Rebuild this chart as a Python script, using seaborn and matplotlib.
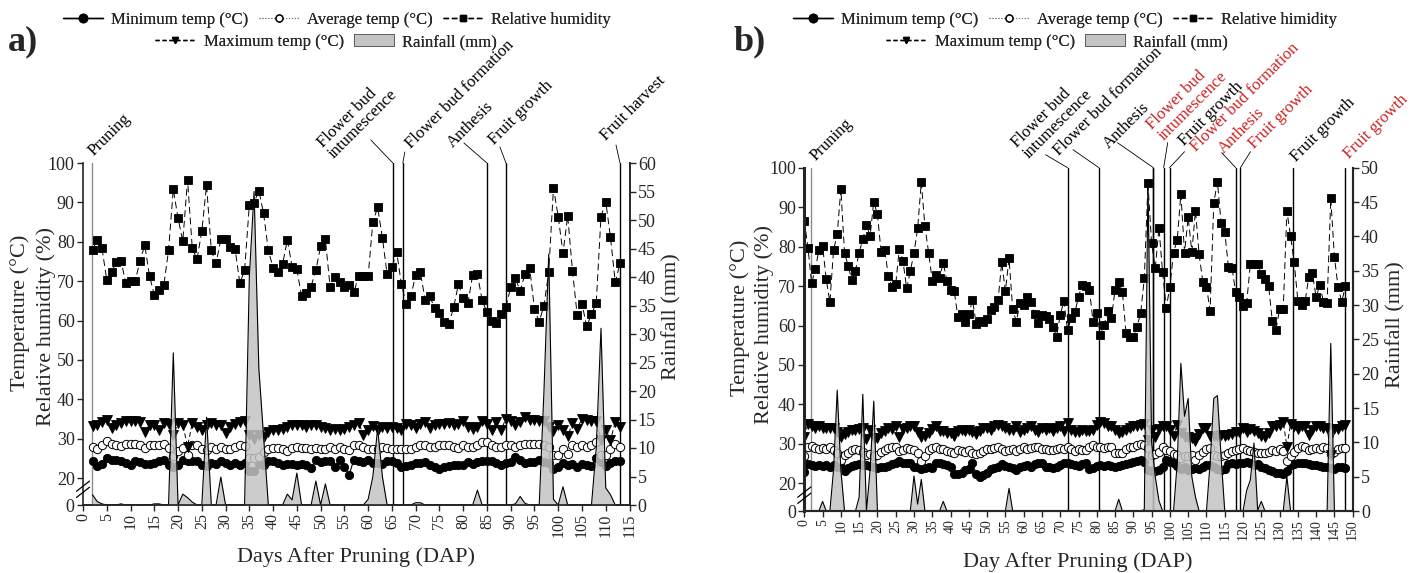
import matplotlib
matplotlib.use('Agg')
import matplotlib.pyplot as plt
from matplotlib.lines import Line2D
from matplotlib.patches import Patch
import numpy as np
import seaborn as sns

sns.set_style('ticks')
plt.rcParams['font.family'] = ['Liberation Serif', 'DejaVu Serif']

# ---------------- panel a data (days 2..113) ----------------
a_days = np.arange(2, 114)
a_rh = [77.9, 80.5, 78.3, 70.3, 72.3, 74.8, 75.2, 69.5, 70.1, 70.1,
        75.2, 79.1, 71.3, 66.5, 67.8, 68.9, 77.8, 93.3, 86.0, 80.2,
        95.7, 78.3, 75.6, 82.7, 94.4, 77.8, 74.5, 80.6, 80.6, 78.6,
        78.2, 69.5, 72.7, 89.3, 89.9, 93.0, 87.2, 77.8, 73.4, 72.2,
        74.3, 80.5, 73.7, 73.0, 66.1, 66.9, 68.6, 72.8, 78.8, 80.7,
        68.4, 71.0, 69.7, 68.4, 68.9, 67.2, 71.3, 71.2, 71.2, 85.1,
        88.7, 81.0, 71.7, 73.5, 77.5, 69.2, 64.2, 66.1, 71.6, 72.2,
        65.2, 66.1, 63.1, 61.8, 59.7, 59.1, 63.4, 69.2, 65.7, 64.4,
        71.6, 71.7, 65.1, 62.1, 60.0, 59.3, 61.6, 63.5, 68.4, 70.7,
        67.5, 71.8, 73.3, 62.9, 59.7, 63.8, 72.3, 93.7, 86.4, 77.1,
        86.6, 72.6, 61.3, 64.2, 58.5, 61.6, 64.4, 86.4, 90.2, 81.1,
        69.7, 74.5]
a_tmax = [33.2, 33.5, 34.2, 34.8, 32.7, 33.4, 34.0, 34.6, 34.6, 34.4,
          34.2, 31.8, 33.5, 33.4, 32.1, 34.0, 33.8, 30.8, 34.0, 33.5,
          28.0, 34.0, 32.9, 32.1, 33.4, 34.0, 33.5, 33.5, 31.4, 32.9,
          33.8, 34.2, 34.5, 30.8, 30.0, 31.0, 30.4, 31.8, 32.3, 32.3,
          32.5, 32.9, 33.4, 33.4, 33.4, 32.9, 33.4, 33.5, 32.9, 32.7,
          32.3, 32.5, 32.3, 32.5, 32.9, 33.5, 34.0, 31.0, 32.1, 33.1,
          32.3, 32.9, 32.7, 32.9, 32.7, 32.1, 33.6, 33.4, 32.7, 33.8,
          34.2, 32.7, 33.4, 33.8, 33.8, 34.0, 33.4, 33.8, 34.5, 32.9,
          32.5, 32.9, 34.5, 33.6, 32.3, 34.2, 32.3, 35.1, 34.6, 33.4,
          34.2, 35.5, 34.8, 34.8, 34.6, 34.6, 32.9, 31.9, 33.5, 32.3,
          30.6, 34.0, 32.5, 35.1, 34.8, 34.6, 34.6, 29.6, 32.3, 29.6,
          34.2, 32.9]
a_tavg = [28.0, 27.4, 28.3, 29.3, 28.7, 28.3, 28.1, 28.7, 28.7, 28.7,
          28.3, 27.7, 28.3, 28.3, 28.5, 28.7, 27.7, 25.5, 26.9, 27.7,
          25.8, 28.3, 28.3, 27.4, 27.0, 27.9, 27.4, 28.0, 27.3, 27.4,
          27.9, 28.3, 28.1, 25.2, 25.2, 25.3, 26.6, 27.4, 27.7, 27.7,
          27.3, 26.9, 27.7, 27.9, 27.7, 27.7, 27.4, 27.7, 27.4, 27.4,
          27.9, 27.4, 27.9, 27.4, 27.2, 28.3, 28.3, 27.9, 27.4, 27.3,
          27.4, 27.9, 27.7, 27.4, 27.4, 27.3, 27.4, 27.4, 27.9, 28.3,
          28.5, 27.9, 27.9, 28.3, 28.3, 28.3, 28.0, 27.7, 28.3, 27.9,
          27.9, 28.3, 29.1, 29.1, 28.3, 27.9, 28.0, 28.3, 28.3, 27.9,
          28.3, 28.7, 28.7, 28.7, 28.7, 28.3, 27.9, 25.8, 25.8, 27.4,
          26.2, 28.3, 28.0, 28.3, 28.0, 28.3, 29.1, 25.8, 25.8, 27.4,
          28.7, 27.9]
a_tmin = [24.2, 23.0, 23.6, 25.1, 24.7, 24.5, 24.2, 23.9, 23.2, 24.2,
          24.1, 23.6, 23.6, 23.9, 24.2, 24.7, 23.2, 22.8, 23.2, 24.5,
          24.2, 24.2, 24.2, 23.2, 23.0, 23.8, 23.6, 24.2, 23.9, 23.4,
          23.8, 23.4, 23.8, 21.9, 21.9, 23.6, 23.2, 24.2, 24.2, 23.8,
          23.4, 23.6, 23.6, 23.4, 23.6, 23.2, 22.5, 24.7, 24.1, 24.2,
          24.2, 22.8, 24.5, 22.8, 20.8, 24.7, 24.2, 24.1, 24.5, 23.8,
          23.9, 23.6, 24.2, 24.2, 23.9, 22.8, 23.0, 23.4, 23.8, 23.9,
          24.1, 23.4, 22.8, 22.4, 22.8, 23.0, 23.2, 23.2, 23.4, 24.1,
          23.6, 24.1, 24.2, 24.2, 24.3, 23.8, 23.4, 23.8, 24.1, 25.3,
          24.5, 23.8, 24.1, 24.1, 24.5, 24.1, 23.8, 22.4, 22.8, 23.8,
          23.4, 23.6, 22.8, 23.6, 23.4, 23.0, 25.1, 24.1, 23.0, 23.8,
          24.2, 24.2]
a_rain = [1.8, 0.6, 0.2, 0, 0, 0, 0.2, 0, 0, 0,
          0, 0, 0, 0.2, 0.2, 0, 0, 26.7, 0, 1.9,
          1.3, 0.5, 0, 0, 15.4, 0, 0, 4.9, 0, 0,
          0, 0, 0, 40.0, 55.0, 24.0, 12.0, 0, 0, 0,
          0, 1.9, 0.9, 5.6, 0, 0, 0, 4.2, 0, 3.7,
          0, 0, 0, 0, 0, 0, 0, 0, 1.0, 5.0,
          13.5, 5.0, 0, 0, 0, 0, 0, 0, 0.4, 0.4,
          0, 0, 0, 0, 0, 0, 0, 0, 0, 0,
          0, 2.6, 0, 0, 0, 0, 0, 0, 0, 0.2,
          1.5, 0.3, 0, 0, 0, 20.0, 44.0, 1.0, 0, 3.2,
          0, 0, 0, 0, 0, 0, 10.0, 31.0, 3.0, 1.8,
          0, 0][:112]

# ---------------- panel b data (days 0..148) ----------------
b_days = np.arange(0, 149)
b_rh = [86.5, 79.7, 70.7, 74.3, 79.1, 80.2, 71.7, 65.9, 79.1, 83.1,
        94.6, 78.5, 75.1, 71.5, 73.9, 78.5, 81.8, 85.5, 82.7, 91.4,
        88.2, 78.7, 79.1, 72.5, 69.8, 70.4, 79.5, 76.3, 69.4, 73.8,
        78.3, 84.6, 96.3, 85.1, 78.5, 71.4, 72.8, 72.1, 75.9, 71.4,
        69.0, 68.8, 62.2, 62.8, 60.8, 62.9, 66.5, 60.5, 61.2, 60.8,
        61.6, 63.9, 64.6, 66.5, 76.0, 68.7, 77.0, 64.1, 61.0, 65.8,
        65.2, 67.3, 66.0, 62.8, 60.7, 62.7, 62.5, 61.6, 59.7, 57.2,
        62.7, 66.2, 58.9, 61.8, 63.3, 67.3, 70.3, 70.1, 69.0, 60.8,
        63.1, 57.6, 60.1, 63.7, 61.8, 69.0, 71.1, 68.6, 58.0, 57.0,
        57.2, 59.7, 63.1, 72.0, 96.0, 80.8, 74.5, 84.8, 73.5, 64.5,
        69.8, 78.5, 81.7, 93.3, 78.5, 87.4, 78.7, 89.1, 78.0, 71.1,
        69.8, 63.8, 91.0, 96.5, 86.1, 83.8, 74.9, 74.5, 68.4, 67.1,
        64.9, 65.8, 75.5, 75.5, 75.6, 73.0, 71.7, 70.0, 61.2, 58.9,
        64.1, 64.2, 89.0, 82.7, 76.0, 66.3, 65.2, 66.2, 72.4, 73.2,
        67.1, 70.3, 66.0, 65.6, 92.2, 77.4, 69.7, 66.0, 70.0]
b_tmax = [31.8, 35.0, 34.4, 34.1, 34.4, 34.1, 34.1, 34.1, 33.9, 33.1,
          31.8, 32.4, 33.1, 33.5, 33.5, 33.7, 34.1, 31.2, 33.5, 31.6,
          31.4, 32.7, 33.3, 33.9, 33.7, 34.5, 31.7, 33.7, 34.1, 34.4,
          34.5, 33.1, 31.7, 32.1, 32.7, 33.8, 34.4, 33.3, 33.3, 32.7,
          32.7, 32.0, 33.3, 33.5, 33.3, 33.5, 33.1, 32.4, 33.3, 34.1,
          33.9, 33.5, 34.4, 34.8, 34.5, 34.1, 33.5, 33.5, 34.4, 33.1,
          33.5, 34.1, 34.4, 33.5, 33.1, 34.1, 33.5, 34.1, 33.3, 33.9,
          34.4, 33.3, 35.2, 33.5, 33.1, 33.1, 33.5, 33.3, 33.3, 33.5,
          34.8, 35.6, 35.2, 34.4, 34.4, 33.5, 32.7, 33.1, 33.5, 33.9,
          34.4, 34.5, 34.8, 35.0, 31.0, 33.5, 31.8, 33.7, 34.4, 34.4,
          33.5, 32.0, 34.8, 32.7, 31.8, 31.8, 31.4, 30.6, 32.4, 33.9,
          33.9, 32.0, 32.0, 32.0, 32.2, 32.0, 32.2, 32.4, 33.1, 33.1,
          33.9, 33.1, 33.7, 33.3, 32.7, 32.0, 31.8, 32.7, 34.4, 34.4,
          34.8, 35.6, 29.3, 35.0, 34.4, 33.7, 34.4, 34.5, 32.2, 33.5,
          34.4, 34.4, 34.1, 34.1, 27.2, 33.7, 33.7, 34.5, 34.8]
b_tavg = [26.8, 29.1, 29.5, 29.0, 28.7, 28.9, 28.7, 29.3, 28.4, 27.6,
          25.9, 27.2, 27.8, 28.4, 28.6, 28.4, 28.0, 27.2, 27.4, 26.9,
          27.2, 28.0, 28.4, 28.9, 29.3, 29.1, 28.3, 28.4, 29.0, 28.7,
          28.4, 27.6, 25.7, 26.9, 28.4, 28.9, 29.1, 28.6, 28.7, 28.3,
          28.0, 27.8, 28.4, 28.3, 28.0, 28.4, 27.8, 27.4, 27.8, 28.3,
          28.7, 28.7, 28.9, 29.1, 28.7, 28.3, 28.4, 28.6, 28.3, 28.7,
          29.3, 28.6, 28.9, 29.1, 29.3, 28.7, 28.7, 28.4, 28.4, 28.7,
          28.9, 28.6, 29.1, 28.6, 28.3, 28.7, 28.4, 28.4, 29.1, 29.7,
          29.3, 29.3, 28.9, 29.1, 29.3, 27.8, 27.6, 27.6, 28.6, 29.1,
          29.3, 29.7, 29.9, 29.7, 28.9, 27.2, 27.4, 28.0, 29.1, 28.4,
          28.3, 27.4, 27.2, 26.3, 26.8, 26.9, 27.2, 25.9, 27.2, 28.0,
          28.6, 28.9, 27.2, 26.8, 26.9, 27.2, 27.8, 28.3, 28.4, 28.6,
          28.9, 28.4, 28.3, 28.0, 27.8, 27.8, 27.6, 28.0, 28.4, 28.3,
          28.6, 28.3, 25.7, 26.8, 28.0, 28.9, 29.5, 29.3, 28.4, 28.6,
          28.9, 28.6, 29.1, 28.9, 27.4, 28.0, 28.6, 28.9, 28.9]
b_tmin = [22.8, 24.9, 24.6, 24.4, 24.6, 24.4, 24.6, 24.2, 24.6, 24.2,
          24.2, 23.2, 24.0, 24.4, 24.6, 24.8, 24.6, 24.6, 24.4, 24.2,
          24.0, 24.2, 24.2, 24.5, 24.8, 25.1, 25.7, 25.2, 25.2, 25.1,
          24.1, 24.1, 23.6, 24.0, 24.2, 24.0, 25.1, 25.2, 24.9, 24.6,
          24.2, 22.3, 22.4, 22.7, 23.4, 23.5, 25.1, 22.3, 21.7, 22.1,
          22.7, 23.5, 23.8, 24.2, 24.8, 24.4, 24.1, 23.8, 23.4, 24.2,
          24.4, 24.6, 24.2, 24.9, 25.2, 25.1, 24.1, 24.2, 23.8, 24.1,
          24.6, 25.2, 25.2, 24.9, 24.6, 24.4, 24.9, 25.1, 23.5, 23.8,
          24.4, 24.6, 24.5, 24.6, 24.4, 24.2, 24.4, 24.6, 24.9, 25.1,
          25.5, 25.7, 25.9, 25.5, 23.4, 23.0, 23.0, 23.4, 24.1, 25.9,
          25.5, 25.1, 24.4, 23.5, 24.2, 23.4, 23.5, 23.8, 23.5, 24.2,
          24.6, 24.6, 24.1, 23.5, 23.4, 23.5, 24.9, 25.1, 24.9, 25.1,
          25.2, 25.5, 25.1, 24.6, 24.9, 24.2, 23.8, 23.4, 23.0, 22.7,
          22.5, 22.4, 23.0, 24.6, 24.8, 25.1, 25.2, 25.1, 24.9, 24.6,
          24.6, 24.4, 24.2, 24.1, 23.8, 23.5, 24.2, 24.1, 23.8]
b_rain = [0, 0, 0, 0, 0, 1.4, 0, 0, 6.0, 17.6,
          6.0, 0, 0, 0, 0, 2.0, 17.0, 0, 6.0, 16.0,
          0, 0, 0, 0, 0, 0, 0, 0, 0, 0,
          5.1, 1.0, 4.6, 0, 0, 0, 0, 0, 1.4, 0,
          0, 0, 0, 0, 0, 0.1, 0, 0, 0, 0,
          0, 0, 0, 0, 0, 0, 3.3, 0, 0, 0,
          0, 0, 0, 0, 0, 0, 0, 0, 0, 0,
          0, 0, 0, 0, 0, 0, 0, 0, 0, 0,
          0, 0, 0, 0, 0, 0, 1.7, 0, 0, 0,
          0, 0, 0, 0.2, 48.0, 10.0, 5.0, 1.5, 0, 0,
          0, 0, 7.0, 21.5, 13.8, 16.4, 5.0, 2.0, 0, 0,
          0, 7.0, 16.4, 16.8, 7.9, 0, 0, 0, 0, 0,
          0, 3.0, 4.5, 9.9, 0.1, 1.4, 0, 0, 0, 0,
          0, 0, 5.0, 0, 0, 0, 0, 0, 0, 0,
          0, 0, 0, 0, 24.4, 0, 0, 0, 0]

# phenological events: day, label, text colour
a_event_days = [1.8, 65.2, 67.3, 85.0, 89.0, 113.0]
a_event_labels = ['Pruning', 'Flower bud\nintumescence', 'Flower bud formation',
                  'Anthesis', 'Fruit growth', 'Fruit harvest']
a_event_colors = ['k'] * 6

b_event_days = [1.8, 72.0, 80.6, 95.5, 95.5, 98.3, 99.9, 118.0, 119.3, 133.8, 148.0]
b_event_labels = ['Pruning', 'Flower bud\nintumescence', 'Flower bud formation', 'Anthesis',
                  'Flower bud\nintumescence', 'Fruit growth', 'Flower bud formation',
                  'Anthesis', 'Fruit growth', 'Fruit growth', 'Fruit growth']
RED = '#cc2222'
b_event_colors = ['k', 'k', 'k', 'k', RED, 'k', RED, RED, RED, 'k', RED]

# label layout: (text offset px, leader end offset px or None)
a_layout = [((5, 4), None), ((-56, 1), (-22, 23)), ((11, 11), (2, 11)),
            ((-31, 12), (-23, 20)), ((-9, 15), (-6, 16)), ((-11, 19), (-4, 18))]
b_layout = [((8, 4), None), ((-36, 6), (-22, 13)), ((-37, 9), (-26, 18)),
            ((-42, 16), (-36, 25)), ((13, 24), None), ((23, 19), (4, 25)),
            ((29, 13), (15, 16)), ((-9, 11), (-14, 15)), ((17, 16), (10, 16)),
            ((6, 3), None), ((7, 6), None)]

W, H = 1419, 573
fig = plt.figure(figsize=(W / 100, H / 100), dpi=100)
RAIN_C = '#c4c4c4'


def draw_panel(rect, days, tmin, tavg, tmax, rh, rain, xmax, rmax, ybot,
               ev_days, ev_labels, ev_colors, layout, spine_lw, left_lw, xfs):
    ax = fig.add_axes(rect)
    ax2 = ax.twinx()
    for i, d in enumerate(ev_days):
        lc = '#8c8c8c' if i == 0 else 'k'
        ax.axvline(d, color=lc, lw=1.0, zorder=1)

    sns.lineplot(x=days, y=tmin, ax=ax, color='k', lw=0.8, marker='o', markersize=6,
                 markeredgecolor='k', markeredgewidth=0.6)
    sns.lineplot(x=days, y=tavg, ax=ax, color='#777777', lw=0.7, linestyle=':',
                 marker='o', markersize=6, markerfacecolor='white',
                 markeredgecolor='k', markeredgewidth=0.7)
    sns.lineplot(x=days, y=tmax, ax=ax, color='k', lw=0.7, linestyle=(0, (5, 3)),
                 marker='v', markersize=7, markeredgecolor='k', markeredgewidth=0.6)
    sns.lineplot(x=days, y=rh, ax=ax, color='k', lw=0.7, linestyle=(0, (7, 4)),
                 marker='s', markersize=6, markeredgecolor='k', markeredgewidth=0.6)

    ax2.fill_between(days, rain, 0, color=RAIN_C, alpha=0.85, lw=0)
    sns.lineplot(x=days, y=rain, ax=ax2, color='k', lw=0.8)

    ax.set_xlim(0, xmax)
    ax.set_ylim(ybot, 100)
    ax2.set_ylim(0, rmax)
    ax.set_xticks(range(0, xmax + 1, 5))
    ax.set_xticklabels([str(v) for v in range(0, xmax + 1, 5)], rotation=90, fontsize=xfs)
    ax.set_yticks([ybot] + list(range(20, 101, 10)))
    ax.set_yticklabels(['0'] + [str(v) for v in range(20, 101, 10)], fontsize=13)
    ax2.set_yticks(range(0, rmax + 1, 5))
    ax2.set_yticklabels([str(v) for v in range(0, rmax + 1, 5)], fontsize=13)
    ax.set_xlabel('')
    ax.set_ylabel('')
    ax2.set_ylabel('')
    ax.tick_params(axis='both', direction='out', length=4, width=1, pad=2)
    ax2.tick_params(axis='y', direction='out', length=4, width=1, pad=2)

    for a in (ax, ax2):
        a.spines['top'].set_visible(False)
        for s in ('bottom', 'right'):
            a.spines[s].set_linewidth(spine_lw)
    ax.spines['left'].set_linewidth(left_lw)
    ax2.spines['left'].set_visible(False)

    # axis break marks
    kw = dict(transform=ax.transAxes, color='k', lw=0.9, clip_on=False, zorder=5)
    ax.plot([-0.012, 0.012], [0.022, 0.052], **kw)
    ax.plot([-0.012, 0.012], [0.040, 0.070], **kw)

    # stage labels
    for d, lab, col, (toff, loff) in zip(ev_days, ev_labels, ev_colors, layout):
        if loff is not None:
            ax.annotate('', xy=(d, 100), xytext=loff, textcoords='offset pixels',
                        arrowprops=dict(arrowstyle='-', lw=0.6, color='k',
                                        shrinkA=0, shrinkB=0), annotation_clip=False)
        ax.annotate(lab, xy=(d, 100), xytext=toff, textcoords='offset pixels',
                    rotation=45, rotation_mode='anchor', ha='left', va='bottom',
                    color=col, fontsize=12, annotation_clip=False,
                    linespacing=1.0)
    return ax, ax2


draw_panel([83 / W, 1 - 505 / H, 546.5 / W, 342 / H], a_days, a_tmin, a_tavg, a_tmax,
           a_rh, a_rain, 115, 60, 20 - 27 / 3.94,
           a_event_days, a_event_labels, a_event_colors, a_layout, 1.2, 1.2, 11.5)
draw_panel([804.3 / W, 1 - 511 / H, 548.4 / W, 343.3 / H], b_days, b_tmin, b_tavg, b_tmax,
           b_rh, b_rain, 150, 50, 20 - 27.7 / 3.945,
           b_event_days, b_event_labels, b_event_colors, b_layout, 1.5, 2.2, 10)

# axis titles
def ftext(x, y, s, **kw):
    fig.text(x / W, 1 - y / H, s, ha='center', va='center', **kw)

ftext(20, 313, 'Temperature (°C)', rotation=90, fontsize=16)
ftext(46, 327, 'Relative humidity (%)', rotation=90, fontsize=16)
ftext(672, 317, 'Rainfall (mm)', rotation=90, fontsize=16)
ftext(356, 557, 'Days After Pruning (DAP)', fontsize=16)
ftext(740, 318, 'Temperature (°C)', rotation=90, fontsize=16)
ftext(764, 325, 'Relative humidity (%)', rotation=90, fontsize=16)
ftext(1396, 325, 'Rainfall (mm)', rotation=90, fontsize=16)
ftext(1078, 562, 'Day After Pruning (DAP)', fontsize=16)
ftext(23, 42, 'a)', fontsize=26, fontweight='bold')
ftext(750, 42, 'b)', fontsize=26, fontweight='bold')

# legends
h_min = Line2D([], [], color='k', lw=1, marker='o', ms=6)
h_avg = Line2D([], [], color='#777777', lw=0.8, ls=':', marker='o', ms=5,
               mfc='white', mec='k')
h_rh = Line2D([], [], color='k', lw=1, ls=(0, (4, 2)), marker='s', ms=5)
h_max = Line2D([], [], color='k', lw=1, ls=(0, (3, 2)), marker='v', ms=5)
h_rain = Patch(facecolor=RAIN_C, edgecolor='#555555', lw=0.6)

leg_kw = dict(loc='center', frameon=False, fontsize=12, handlelength=2.4,
              handletextpad=0.5, columnspacing=0.6, borderpad=0, borderaxespad=0)
for cx1, cx2, rh_name in ((337, 326, 'Relative humidity'), (1065, 1057, 'Relative himidity')):
    l1 = fig.legend([h_min, h_avg, h_rh],
                    ['Minimum temp (°C)', 'Average temp (°C)', rh_name],
                    ncol=3, bbox_to_anchor=(cx1 / W, 1 - 20 / H), **leg_kw)
    fig.add_artist(l1)
    l2 = fig.legend([h_max, h_rain], ['Maximum temp (°C)', 'Rainfall (mm)'],
                    ncol=2, bbox_to_anchor=(cx2 / W, 1 - 42 / H), **leg_kw)
    fig.add_artist(l2)

fig.savefig('out.png', dpi=100)
